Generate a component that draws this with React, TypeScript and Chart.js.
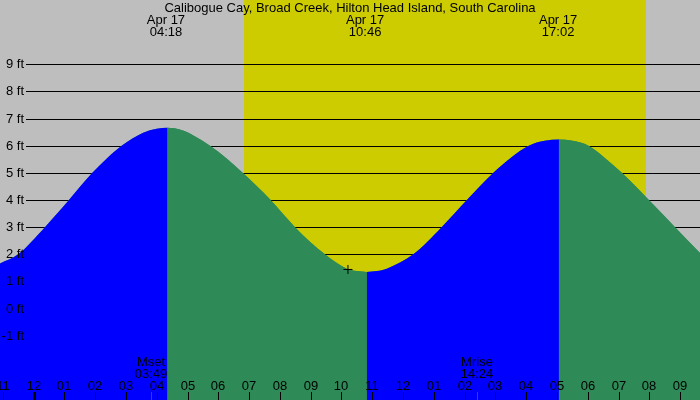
import React, { useEffect, useRef } from "react";
import { Chart, registerables } from "chart.js";

Chart.register(...registerables);

const title = "Calibogue Cay, Broad Creek, Hilton Head Island, South Carolina";

// tide curve (hours after midnight Apr 17, feet)
const tideHours = [-1.09, -0.5, 0.37, 1.15, 1.91, 2.38, 2.86, 3.56, 4.0, 4.35, 4.8, 5.19, 5.73, 6.27, 6.79, 7.7, 8.49, 9.46, 10.17, 10.5, 10.82, 11.15, 11.47, 12.33, 13.25, 14.07, 14.93, 15.5, 16.08, 16.6, 17.06, 17.5, 18.02, 18.55, 19.1, 19.98, 20.83, 21.64];
const tideFeet = [1.66, 2.0, 3.0, 4.0, 5.0, 5.53, 6.0, 6.48, 6.63, 6.66, 6.58, 6.38, 6.0, 5.53, 5.0, 4.0, 3.0, 2.0, 1.47, 1.38, 1.35, 1.38, 1.47, 2.0, 3.0, 4.0, 5.0, 5.56, 6.0, 6.18, 6.23, 6.18, 6.0, 5.55, 5.0, 4.0, 3.0, 2.05];

// extremes labelled at the top
const extremeHours = [4.3, 10.767, 17.033];
const extremeDates = ["Apr 17", "Apr 17", "Apr 17"];
const extremeTimes = ["04:18", "10:46", "17:02"];

// moon events
const moonHours = [3.817, 14.4];
const moonNames = ["Mset", "Mrise"];
const moonTimes = ["03:49", "14:24"];

// sun
const sunriseHour = 6.83;
const sunsetHour = 19.88;

// axis ticks
const hourTicks = [-1, 0, 1, 2, 3, 4, 5, 6, 7, 8, 9, 10, 11, 12, 13, 14, 15, 16, 17, 18, 19, 20, 21];
const hourLabels = ["11", "12", "01", "02", "03", "04", "05", "06", "07", "08", "09", "10", "11", "12", "01", "02", "03", "04", "05", "06", "07", "08", "09"];
const feetTicks = [9, 8, 7, 6, 5, 4, 3, 2, 1, 0, -1];

// current-time marker
const markerHours = [10.21];
const markerFeet = [1.44];

const xMin = -1.088;
const xMax = 21.64;
const yMin = -3.37;
const yMax = 11.37;

const FONT = '13px "Liberation Sans", Arial, sans-serif';
const RISING = "#0000ff";
const FALLING = "#2e8b57";

const decorPlugin = {
  id: "tideDecor",
  beforeDraw(chart: any) {
    const { ctx, scales } = chart;
    const x = scales.x;
    const y = scales.y;
    ctx.save();
    ctx.fillStyle = "#bebebe";
    ctx.fillRect(0, 0, chart.width, chart.height);
    const sx0 = Math.round(x.getPixelForValue(sunriseHour));
    const sx1 = Math.round(x.getPixelForValue(sunsetHour));
    ctx.fillStyle = "#cccc00";
    ctx.fillRect(sx0, 0, sx1 - sx0, chart.height);
    ctx.fillStyle = "#000000";
    for (const f of feetTicks) {
      const py = Math.round(y.getPixelForValue(f));
      ctx.fillRect(26, py, chart.width - 26, 1);
    }
    ctx.restore();
  },
  afterDraw(chart: any) {
    const { ctx, scales } = chart;
    const x = scales.x;
    const y = scales.y;
    ctx.save();
    ctx.font = FONT;
    ctx.fillStyle = "#000000";
    ctx.textBaseline = "alphabetic";

    // y labels
    ctx.textAlign = "right";
    for (const f of feetTicks) {
      const py = Math.round(y.getPixelForValue(f));
      ctx.fillText(f + " ft", 24, py + 4);
    }

    // title & extremes
    ctx.textAlign = "center";
    ctx.fillText(title, chart.width / 2, 12);
    extremeHours.forEach((h, i) => {
      const px = x.getPixelForValue(h);
      ctx.fillText(extremeDates[i], px, 24);
      ctx.fillText(extremeTimes[i], px, 36);
    });

    // hour ticks
    hourTicks.forEach((h, i) => {
      const px = Math.round(x.getPixelForValue(h));
      ctx.fillStyle = "#000000";
      if (h === 0) ctx.fillRect(px - 1, 392, 3, 8);
      else ctx.fillRect(px, 392, 1, 8);
      ctx.fillText(hourLabels[i], px, 390);
    });

    // moon events
    moonHours.forEach((h, i) => {
      const px = Math.round(x.getPixelForValue(h));
      ctx.fillStyle = "#ff0000";
      ctx.fillRect(px, 392, 1, 8);
      ctx.fillStyle = "#000000";
      ctx.fillText(moonNames[i], px, 366);
      ctx.fillText(moonTimes[i], px, 378);
    });
    ctx.restore();
  },
};

export default function App() {
  const ref = useRef<HTMLCanvasElement>(null);
  useEffect(() => {
    document.body.style.margin = "0";
    const tidePoints = tideHours.map((h, i) => ({ x: h, y: tideFeet[i] }));
    const markerPoints = markerHours.map((h, i) => ({ x: h, y: markerFeet[i] }));
    const chart = new Chart(ref.current as HTMLCanvasElement, {
      type: "line",
      data: {
        datasets: [
          {
            type: "scatter",
            data: markerPoints,
            pointStyle: "cross",
            pointRadius: 4.5,
            borderColor: "#000000",
            borderWidth: 1,
            showLine: false,
            order: 0,
          } as any,
          {
            data: tidePoints,
            fill: "start",
            backgroundColor: RISING,
            borderColor: "rgba(0,0,0,0)",
            borderWidth: 0,
            pointRadius: 0,
            cubicInterpolationMode: "monotone",
            segment: {
              backgroundColor: (c: any) => (c.p1.parsed.y >= c.p0.parsed.y ? RISING : FALLING),
            },
            order: 1,
          } as any,
          {
            // underlay: hides anti-aliasing seams between rising / falling fills
            data: tidePoints,
            fill: "start",
            backgroundColor: FALLING,
            borderColor: "rgba(0,0,0,0)",
            borderWidth: 0,
            pointRadius: 0,
            cubicInterpolationMode: "monotone",
            order: 2,
          } as any,
        ],
      },
      options: {
        animation: false,
        responsive: false,
        devicePixelRatio: 1,
        layout: { padding: 0, autoPadding: false },
        events: [],
        plugins: {
          legend: { display: false },
          tooltip: { enabled: false },
          title: { display: false },
        },
        scales: {
          x: { type: "linear", min: xMin, max: xMax, display: false },
          y: { type: "linear", min: yMin, max: yMax, display: false },
        },
      },
      plugins: [decorPlugin],
    });
    return () => chart.destroy();
  }, []);
  return (
    <div style={{ position: "absolute", left: 0, top: 0, width: 700, height: 400 }}>
      <canvas ref={ref} width={700} height={400} style={{ display: "block", width: 700, height: 400 }} />
    </div>
  );
}
